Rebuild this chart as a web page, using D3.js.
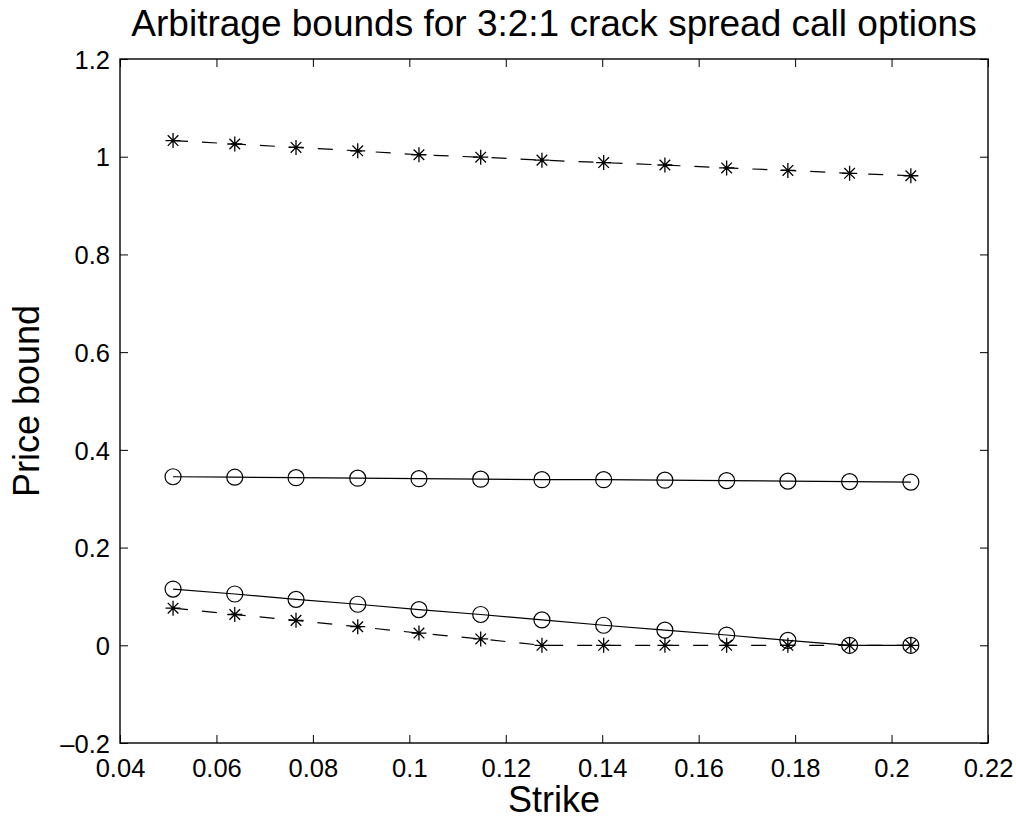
<!DOCTYPE html>
<html lang="en">
    <head>
        <meta charset="utf-8" />
        <script src="https://cdnjs.cloudflare.com/ajax/libs/d3/7.1.1/d3.min.js"></script>
        <title>Crack spread bounds</title>
        <style>
            body { margin: 0; background: #fff; }
            svg text { font-family: 'Liberation Sans', Arial, Helvetica, sans-serif; fill: #000; }
        </style>
    </head>
    <body>
        <div id="chart"></div>
        <script>

        // Data
        const strikes = [0.051, 0.0638, 0.0765, 0.0893, 0.102, 0.1148, 0.1275, 0.1403, 0.153, 0.1658, 0.1785, 0.1913, 0.204];
        const upperStar = [1.033, 1.026, 1.019, 1.012, 1.004, 0.999, 0.993, 0.988, 0.983, 0.977, 0.972, 0.966, 0.961];
        const upperCircle = [0.345, 0.344, 0.343, 0.342, 0.341, 0.340, 0.339, 0.339, 0.338, 0.337, 0.336, 0.335, 0.334];
        const lowerCircle = [0.115, 0.105, 0.094, 0.084, 0.073, 0.063, 0.052, 0.041, 0.031, 0.021, 0.010, 0, 0];
        const lowerStar = [0.076, 0.063, 0.051, 0.038, 0.025, 0.013, 0, 0, 0, 0, 0, 0, 0];
        const xTicks = [0.04, 0.06, 0.08, 0.1, 0.12, 0.14, 0.16, 0.18, 0.2, 0.22];
        const yTicks = [-0.2, 0, 0.2, 0.4, 0.6, 0.8, 1, 1.2];

        const series = [
            { values: upperStar, marker: 'star', dashed: true },
            { values: upperCircle, marker: 'circle', dashed: false },
            { values: lowerCircle, marker: 'circle', dashed: false },
            { values: lowerStar, marker: 'star', dashed: true }
        ];

        const width = 1016;
        const height = 821;
        const margin = { top: 59, bottom: 78, left: 120, right: 28 };
        const innerW = width - margin.left - margin.right;
        const innerH = height - margin.top - margin.bottom;

        const svg = d3
            .select('#chart')
            .append('svg')
            .attr('width', width)
            .attr('height', height);

        const g = svg.append('g')
            .attr('transform', `translate(${margin.left}, ${margin.top})`);

        //Scales
        const x = d3.scaleLinear().domain([0.04, 0.22]).range([0, innerW]);
        const y = d3.scaleLinear().domain([-0.2, 1.2]).range([innerH, 0]);

        const fmt = (d) => (d < 0 ? '\u2013' : '') + String(Math.round(Math.abs(d) * 100) / 100);

        //Axes (ticks inside, mirrored on top/right)
        const tickLen = 8;
        g.append('g').attr('transform', `translate(0, ${innerH})`)
            .call(d3.axisBottom(x).tickValues(xTicks).tickSize(-tickLen).tickPadding(16).tickFormat(fmt))
            .call((a) => a.selectAll('text').attr('font-size', 25.5).attr('dy', '0.72em'));
        g.append('g')
            .call(d3.axisTop(x).tickValues(xTicks).tickSize(-tickLen).tickFormat(''));
        g.append('g')
            .call(d3.axisLeft(y).tickValues(yTicks).tickSize(-tickLen).tickPadding(10).tickFormat(fmt))
            .call((a) => a.selectAll('text').attr('font-size', 25.5).attr('dy', '0.36em'));
        g.append('g').attr('transform', `translate(${innerW}, 0)`)
            .call(d3.axisRight(y).tickValues(yTicks).tickSize(-tickLen).tickFormat(''));

        g.selectAll('.domain').remove();
        g.selectAll('.tick line').attr('stroke', '#000').attr('stroke-width', 1);
        g.append('rect')
            .attr('width', innerW)
            .attr('height', innerH)
            .attr('fill', 'none')
            .attr('stroke', '#000')
            .attr('stroke-width', 1.4);

        //Lines
        const line = d3.line().x((d, i) => x(strikes[i])).y((d) => y(d));

        series.forEach((s) => {
            g.append('path')
                .datum(s.values)
                .attr('d', line)
                .attr('fill', 'none')
                .attr('stroke', '#000')
                .attr('stroke-width', 1.2)
                .attr('stroke-dasharray', s.dashed ? '15,14' : null);

            const pts = g.append('g').selectAll('g')
                .data(s.values)
                .enter()
                .append('g')
                .attr('transform', (d, i) => `translate(${x(strikes[i])}, ${y(d)})`);

            if (s.marker === 'circle') {
                pts.append('circle')
                    .attr('r', 8)
                    .attr('fill', 'none')
                    .attr('stroke', '#000')
                    .attr('stroke-width', 1.2);
            } else {
                const r = 7.5, q = 5.3;
                pts.append('path')
                    .attr('d', `M${-r},0H${r}M0,${-r}V${r}M${-q},${-q}L${q},${q}M${-q},${q}L${q},${-q}`)
                    .attr('fill', 'none')
                    .attr('stroke', '#000')
                    .attr('stroke-width', 1.3);
            }
        });

        //Labels
        svg.append('text')
            .attr('x', margin.left + innerW / 2)
            .attr('y', 36)
            .attr('text-anchor', 'middle')
            .attr('font-size', 37)
            .text('Arbitrage bounds for 3:2:1 crack spread call options');

        svg.append('text')
            .attr('x', margin.left + innerW / 2)
            .attr('y', 812)
            .attr('text-anchor', 'middle')
            .attr('font-size', 36)
            .text('Strike');

        svg.append('text')
            .attr('transform', `translate(39, ${margin.top + innerH / 2}) rotate(-90)`)
            .attr('text-anchor', 'middle')
            .attr('font-size', 36)
            .text('Price bound');

        </script>
    </body>
</html>
